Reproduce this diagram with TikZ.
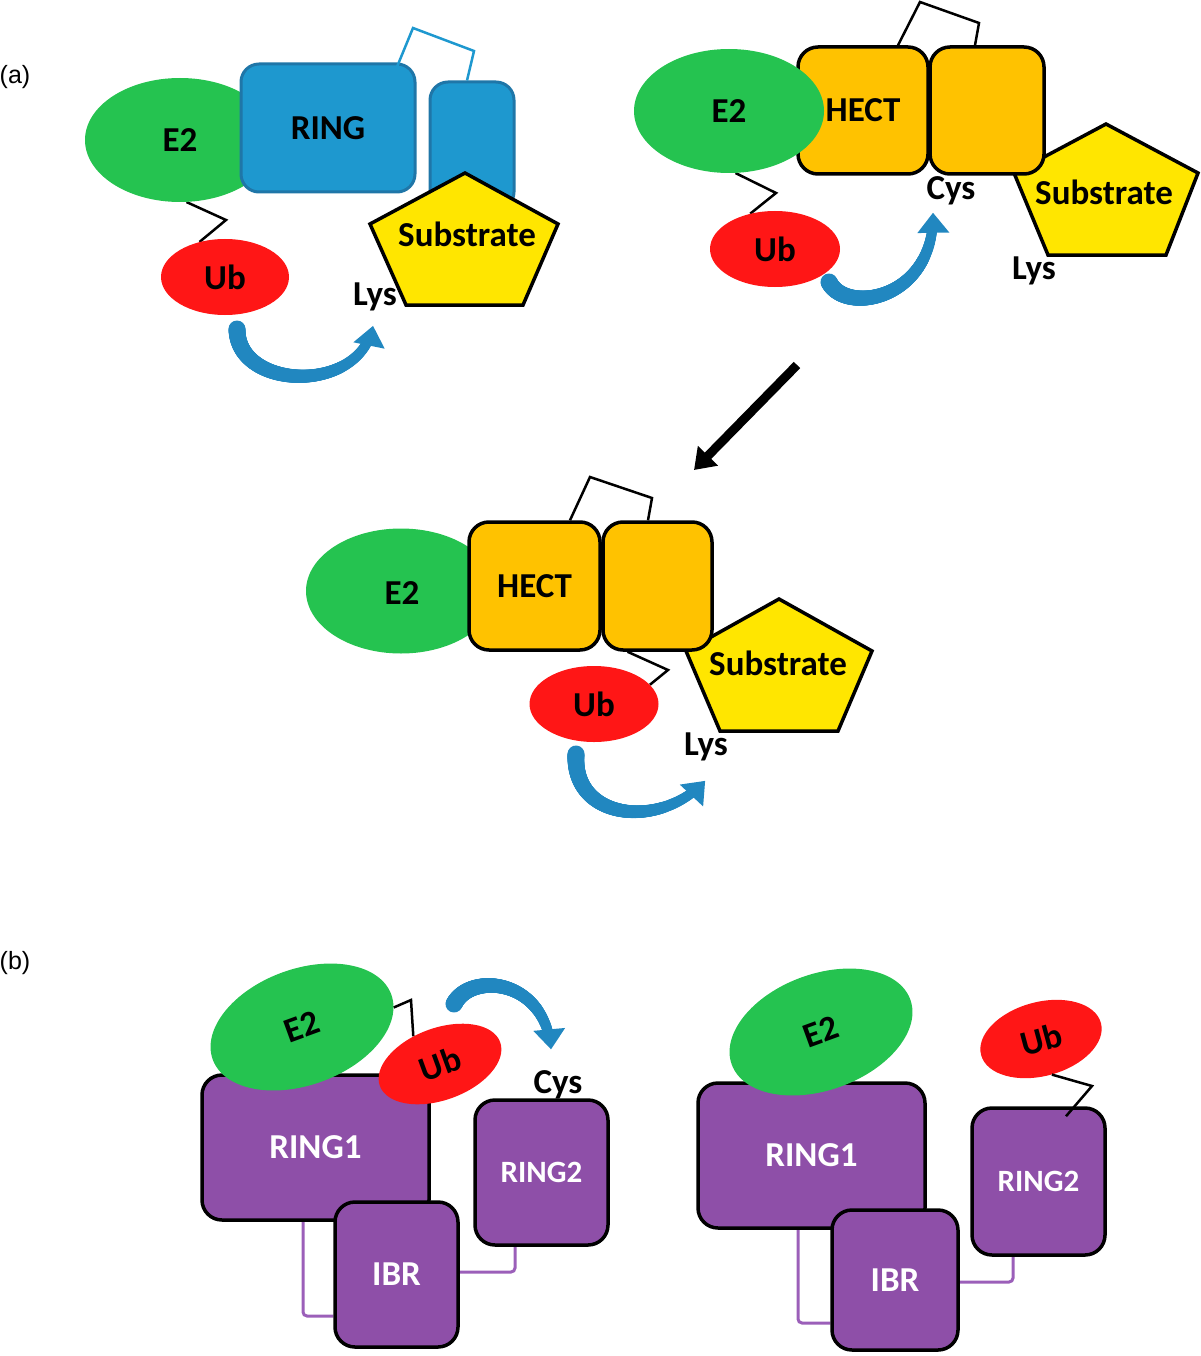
\documentclass[tikz,border=0pt]{standalone}
\usepackage{fontspec}
\setmainfont{Carlito}
\newfontfamily\arialfont{Liberation Sans}
\usetikzlibrary{arrows.meta, shapes.geometric, backgrounds, decorations.markings}

\definecolor{e2green}{RGB}{37,195,80}
\definecolor{ubred}{RGB}{255,22,22}
\definecolor{ringblue}{RGB}{30,152,207}
\definecolor{ringedge}{RGB}{31,118,168}
\definecolor{subyellow}{RGB}{255,230,0}
\definecolor{hectorange}{RGB}{255,194,0}
\definecolor{rbrpurple}{RGB}{142,79,168}
\definecolor{tetherpurple}{RGB}{155,95,185}
\definecolor{swoopblue}{RGB}{33,135,192}

\begin{document}
\begin{tikzpicture}[x=1pt, y=-1pt,
    every node/.style={font=\fontsize{35}{38}\selectfont\bfseries, inner sep=0pt},
    e2/.style={ellipse, fill=e2green, minimum width=190pt, minimum height=124pt},
    ub/.style={ellipse, fill=ubred, minimum width=128pt, minimum height=76pt},
    ringbox/.style={draw=ringedge, line width=3pt, fill=ringblue, rounded corners=18pt},
    hectbox/.style={draw, line width=3.5pt, fill=hectorange, rounded corners=20pt},
    rbrbox/.style={draw, line width=3.5pt, fill=rbrpurple, rounded corners=20pt, text=white},
    substrate/.style={draw, line width=3.5pt, fill=subyellow},
    tether/.style={line width=2.5pt},
    purpletether/.style={draw=tetherpurple, line width=3pt, rounded corners=4pt},
    swoop/.style={
      postaction={decorate, decoration={markings,
        mark=between positions 0 and 0.92 step 0.004 with {%
          \pgfmathsetmacro\swr{8.5-4*\pgfkeysvalueof{/pgf/decoration/mark info/distance from start}/\pgfdecoratedpathlength}%
          \fill[swoopblue] (0,0) circle[radius=\swr pt];}}},
      postaction={decorate, decoration={markings,
        mark=at position 0.995 with {\fill[swoopblue] (1,0) -- (-19,16) -- (-19,-16) -- cycle;}}}},
    stagearrow/.style={line width=9pt, -{Triangle[width=27pt,length=20pt]}},
    tag/.style={font=\arialfont\fontsize{25}{28}\selectfont}]
\useasboundingbox (0,0) rectangle (1200,1356);

\node[tag] (taga) at (15,77) {(a)};
\node[tag] (tagb) at (15,963) {(b)};

% (a) RING E3
\node[e2] (e2a) at (180,140) {E2};
\node[ringbox, minimum width=174pt, minimum height=128pt] (ringa) at (328,128) {RING};
\node[ringbox, minimum width=84pt, minimum height=128pt] (capa) at (472,146) {};
\draw[substrate] (465,173) -- (558,224) -- (523,305) -- (406,305) -- (370,224) -- cycle;
\node (suba) at (467,234) {Substrate};
\draw[tether, draw=ringblue] ([shift={(-28,25)}]ringa.north east) -- (413,28) -- (474,51) -- ([shift={(-5,0)}]capa.north);
\node[ub] (uba) at (225,277) {Ub};
\node[anchor=base] (lysa) at (375,305) {Lys};
\begin{scope}[on background layer]
  \draw[tether] (e2a.-84) -- (226,220) -- (uba.126);
\end{scope}
\coordinate (swa0) at (237,329);
\coordinate (swa1) at (373,326);
\path[swoop] (swa0) .. controls (237,390) and (360,395) .. (swa1);

% (a) HECT E3
\draw[substrate] (1106,124) -- (1198,173) -- (1166,255) -- (1048,255) -- (1014,173) -- cycle;
\node (subb) at (1104,192) {Substrate};
\node[hectbox, minimum width=130pt, minimum height=127pt] (hectb) at (863,110.5) {};
\node[hectbox, minimum width=114pt, minimum height=127pt] (sideb) at (987,110.5) {};
\node[e2] (e2b) at (729,111) {E2};
\node (hectlabel) at (863,110) {HECT};
\node[ub, minimum width=130pt] (ubb) at (775,249) {Ub};
\node[anchor=base] (cysb) at (951,200) {Cys};
\node[anchor=base] (lysb) at (1034,279) {Lys};
\begin{scope}[on background layer]
  \draw[tether] ([shift={(35,0)}]hectb.north) -- (920,2) -- (979,23) -- ([shift={(-12,0)}]sideb.north);
  \draw[tether] (e2b.-84) -- (776,193) -- (ubb.125);
\end{scope}
\coordinate (swb0) at (829,282);
\coordinate (swb1) at (933,213);
\path[swoop] (swb0) .. controls (845,315) and (935,300) .. (swb1);

% step arrow
\coordinate (stagefrom) at (797,365);
\coordinate (stageto) at (694,470);
\draw[stagearrow] (stagefrom) -- (stageto);

% (a) HECT after transfer
\node[e2, minimum height=125pt] (e2c) at (401,591) {};
\node (e2clabel) at (402,593) {E2};
\draw[substrate] (779,599) -- (872,651) -- (838,731) -- (720,731) -- (686,651) -- cycle;
\node (subc) at (778,663) {Substrate};
\node[hectbox, minimum width=131pt, minimum height=128pt] (hectc) at (534.5,586) {HECT};
\node[hectbox, minimum width=109pt, minimum height=128pt] (sidec) at (657.5,586) {};
\node[ub, minimum width=129pt] (ubc) at (594,704) {Ub};
\node[anchor=base] (lysc) at (706,755) {Lys};
\begin{scope}[on background layer]
  \draw[tether] ([shift={(35.5,0)}]hectc.north) -- (590,477) -- (652,498) -- ([shift={(-9.5,0)}]sidec.north);
  \draw[tether] ([shift={(-30,0)}]sidec.south) -- (668,670) -- (ubc.19);
\end{scope}
\coordinate (swc0) at (576,754);
\coordinate (swc1) at (705,781);
\path[swoop] (swc0) .. controls (572,820) and (660,830) .. (swc1);

% (b) RBR, Ub on E2
\node[rbrbox, minimum width=227pt, minimum height=145pt] (ring1d) at (315.5,1147.5) {RING1};
\node[rbrbox, minimum width=123pt, minimum height=145pt] (ibrd) at (396.5,1274.5) {IBR};
\node[rbrbox, minimum width=133pt, minimum height=145pt, font=\fontsize{31}{34}\selectfont\bfseries] (ring2d) at (541.5,1172.5) {RING2};
\node[e2, rotate=20, minimum height=116pt] (e2d) at (302,1027) {E2};
\node[ub, rotate=20, minimum height=72pt] (ubd) at (440,1064) {Ub};
\node[anchor=base] (cysd) at (558,1093) {Cys};
\begin{scope}[on background layer]
  \draw[purpletether] ([shift={(-12.5,0)}]ring1d.south) |- ([shift={(0,41.5)}]ibrd.west);
  \draw[purpletether] ([shift={(0,-2.5)}]ibrd.east) -| ([shift={(-26.5,0)}]ring2d.south);
  \draw[tether] (e2d.-8) -- (411,1000) -- (ubd.114);
\end{scope}
\coordinate (swd0) at (454,1004);
\coordinate (swd1) at (551,1049);
\path[swoop] (swd0) .. controls (470,972) and (545,978) .. (swd1);

% (b) RBR, Ub on RING2
\node[rbrbox, minimum width=227pt, minimum height=145pt] (ring1e) at (811.5,1155.5) {RING1};
\node[rbrbox, minimum width=126pt, minimum height=140pt] (ibre) at (895,1280) {IBR};
\node[rbrbox, minimum width=133pt, minimum height=147pt, font=\fontsize{31}{34}\selectfont\bfseries] (ring2e) at (1038.5,1181.5) {RING2};
\node[e2, rotate=20, minimum height=116pt] (e2e) at (821,1032) {E2};
\node[ub, rotate=15, minimum width=124pt, minimum height=74pt] (ube) at (1041,1039) {Ub};
\begin{scope}[on background layer]
  \draw[purpletether] ([shift={(-13.5,0)}]ring1e.south) |- ([shift={(0,43)}]ibre.west);
  \draw[purpletether] ([shift={(0,2)}]ibre.east) -| ([shift={(-25.5,0)}]ring2e.south);
\end{scope}
\draw[tether] (ube.-88) -- (1092,1086) -- ([shift={(27.5,10)}]ring2e.north);
\end{tikzpicture}
\end{document}
